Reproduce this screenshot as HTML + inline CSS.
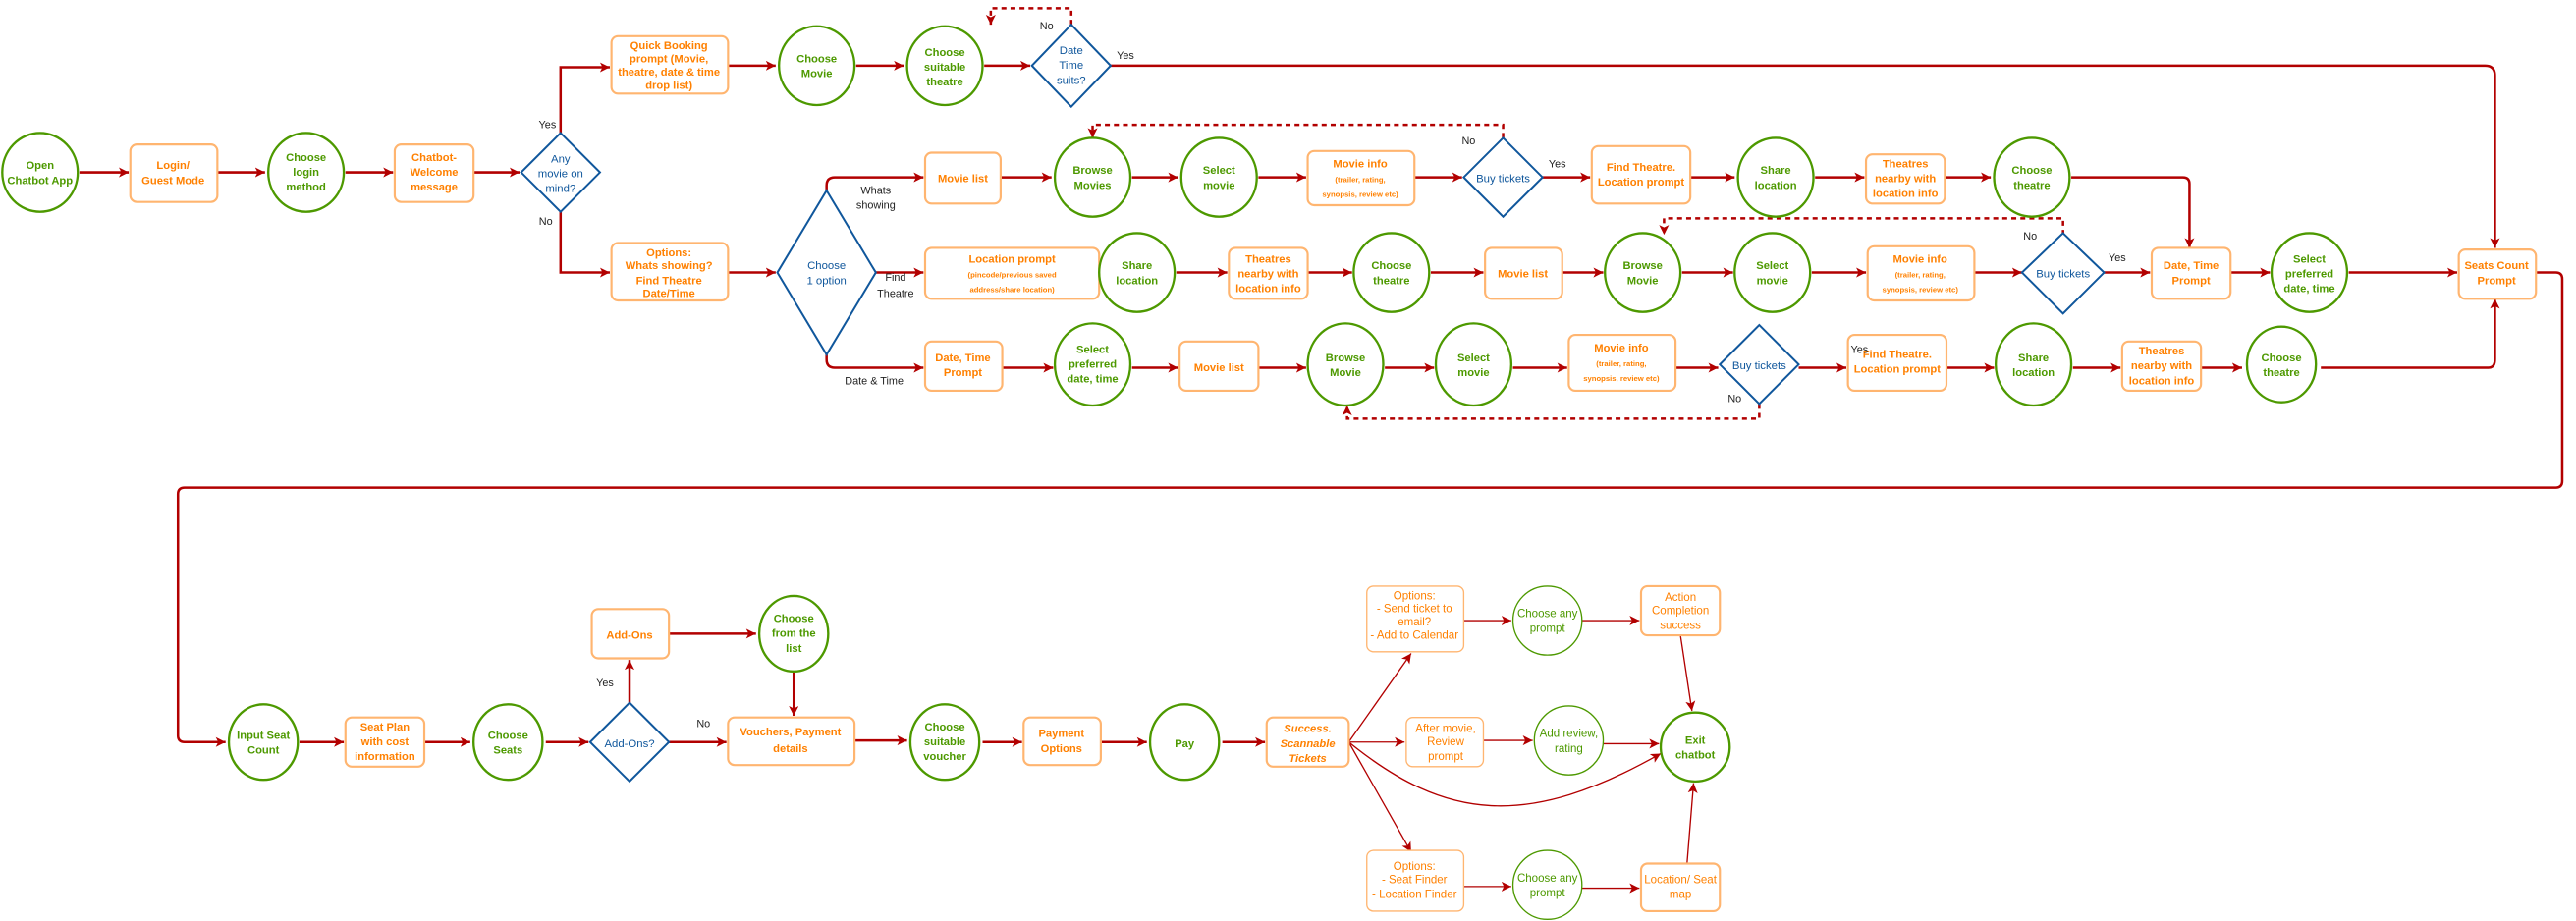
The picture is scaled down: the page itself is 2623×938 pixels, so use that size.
<!DOCTYPE html>
<html><head><meta charset="utf-8"><style>
html,body{margin:0;padding:0;background:#fff;}
svg{display:block;}
text{font-family:"Liberation Sans Narrow","Liberation Sans",sans-serif;text-anchor:middle;}
.g{fill:#4d9900;font-size:6.7px;font-weight:bold;}
.o{fill:#ff8000;font-size:6.7px;font-weight:bold;}
.os{fill:#ff8000;font-size:4.6px;font-weight:bold;}
.b{fill:#10579c;font-size:6.8px;}
.k{fill:#222;font-size:6.5px;}
.gn{fill:#4d9900;font-size:6.9px;}
.on{fill:#ff8000;font-size:6.9px;}
.cir{fill:#fff;stroke:#4d9900;stroke-width:1.4;}
.cir2{fill:#fff;stroke:#4d9900;stroke-width:0.8;}
.box{fill:#fff;stroke:#ffb570;stroke-width:1.3;}
.box2{fill:#fff;stroke:#ffb570;stroke-width:0.8;}
.dia{fill:#fff;stroke:#10579c;stroke-width:1.2;}
.a{fill:none;stroke:#b20000;stroke-width:1.5;marker-end:url(#ah);}
.a2{fill:none;stroke:#b20000;stroke-width:0.8;marker-end:url(#ah2);}
.d{fill:none;stroke:#b20000;stroke-width:1.5;stroke-dasharray:3,2.5;marker-end:url(#ah);}
</style></head><body>
<svg width="2623" height="938" viewBox="0 0 1568 561" xmlns="http://www.w3.org/2000/svg">
<defs>
<marker id="ah" markerWidth="8" markerHeight="8" refX="6" refY="3" orient="auto" markerUnits="userSpaceOnUse"><path d="M0,0 L6,3 L0,6 L1.5,3 z" fill="#b20000"/></marker>
<marker id="ah2" markerWidth="8" markerHeight="8" refX="6" refY="3" orient="auto" markerUnits="userSpaceOnUse"><path d="M0,0 L6,3 L0,6 L1.5,3 z" fill="#b20000"/></marker>
</defs>

<path class="a" d="M48,105 H78"/>
<path class="a" d="M132,105 H161"/>
<path class="a" d="M210,105 H239"/>
<path class="a" d="M288,105 H316"/>
<path class="a" d="M341,81 V41 H371"/>
<path class="a" d="M341,129 V166 H371"/>
<path class="a" d="M443,40 H472"/>
<path class="a" d="M521,40 H550"/>
<path class="a" d="M599,40 H627"/>
<path class="d" d="M652,15 V5 H603 V15"/>
<path class="a" d="M676,40 H1513 Q1519,40 1519,46 V151"/>
<path class="a" d="M443,166 H472"/>
<path class="a" d="M503,116 V113 Q503,108 508,108 H562"/>
<path class="a" d="M533,166 H562"/>
<path class="a" d="M503,216 V219 Q503,224 508,224 H562"/>

<path class="a" d="M609,108 H640"/>
<path class="a" d="M689,108 H717"/>
<path class="a" d="M766,108 H795"/>
<path class="a" d="M861,108 H890"/>
<path class="a" d="M939,108 H968"/>
<path class="a" d="M1029,108 H1056"/>
<path class="a" d="M1105,108 H1135"/>
<path class="a" d="M1184,108 H1212"/>
<path class="a" d="M1261,108 H1329 Q1333,108 1333,112 V151"/>
<path class="d" d="M915,84 V76 H665 V84"/>

<path class="a" d="M716,166 H747"/>
<path class="a" d="M796,166 H823"/>
<path class="a" d="M871,166 H903"/>
<path class="a" d="M951,166 H976"/>
<path class="a" d="M1024,166 H1055"/>
<path class="a" d="M1103,166 H1136"/>
<path class="a" d="M1202,166 H1231"/>
<path class="a" d="M1281,166 H1309"/>
<path class="a" d="M1358,166 H1382"/>
<path class="a" d="M1430,166 H1496"/>
<path class="d" d="M1256,143 V133 H1013 V143"/>

<path class="a" d="M610,224 H641"/>
<path class="a" d="M689,224 H717"/>
<path class="a" d="M766,224 H795"/>
<path class="a" d="M843,224 H873"/>
<path class="a" d="M921,224 H954"/>
<path class="a" d="M1020,224 H1046"/>
<path class="a" d="M1095,224 H1124"/>
<path class="a" d="M1185,224 H1214"/>
<path class="a" d="M1262,224 H1291"/>
<path class="a" d="M1340,224 H1365"/>
<path class="a" d="M1413,224 H1515 Q1519,224 1519,219 V182"/>
<path class="d" d="M1071,246 V255 H820 V247"/>

<path class="a" d="M1544,166 H1556 Q1560,166 1560,170 V293 Q1560,297 1556,297 H112 Q108,297 108,301 V448 Q108,452 112,452 H137"/>

<path class="a" d="M182,452 H209"/>
<path class="a" d="M258,452 H286"/>
<path class="a" d="M332,452 H358"/>
<path class="a" d="M383,428 V402"/>
<path class="a" d="M407,386 H460"/>
<path class="a" d="M483,408 V436"/>
<path class="a" d="M407,452 H442"/>
<path class="a" d="M520,451 H552"/>
<path class="a" d="M598,452 H622"/>
<path class="a" d="M670,452 H698"/>
<path class="a" d="M744,452 H770"/>
<path class="a2" d="M821,452 L859,398"/>
<path class="a2" d="M821,452 H855"/>
<path class="a2" d="M821,452 L859,519"/>
<path class="a2" d="M821,452 C880,500 930,505 1011,459"/>
<path class="a2" d="M891,378 H920"/>
<path class="a2" d="M963,378 H998"/>
<path class="a2" d="M1023,387 L1030,433"/>
<path class="a2" d="M903,451 H933"/>
<path class="a2" d="M976,453 H1010"/>
<path class="a2" d="M891,540 H920"/>
<path class="a2" d="M963,541 H998"/>
<path class="a2" d="M1027,526 L1031,477"/>

<ellipse class="cir" cx="24" cy="105" rx="23" ry="24"/>
<text class="g" x="24" y="103">Open</text><text class="g" x="24" y="112">Chatbot App</text>
<rect class="box" x="79" y="88" width="53" height="35" rx="4"/>
<text class="o" x="105" y="103">Login/</text><text class="o" x="105" y="112">Guest Mode</text>
<ellipse class="cir" cx="186" cy="105" rx="23" ry="24"/>
<text class="g" x="186" y="98">Choose</text><text class="g" x="186" y="107">login</text><text class="g" x="186" y="116">method</text>
<rect class="box" x="240" y="88" width="48" height="35" rx="4"/>
<text class="o" x="264" y="98">Chatbot-</text><text class="o" x="264" y="107">Welcome</text><text class="o" x="264" y="116">message</text>
<polygon class="dia" points="341,81 365,105 341,129 317,105"/>
<text class="b" x="341" y="99">Any</text><text class="b" x="341" y="108">movie on</text><text class="b" x="341" y="117">mind?</text>

<rect class="box" x="372" y="22" width="71" height="35" rx="4"/>
<text class="o" x="407" y="30">Quick Booking</text><text class="o" x="407" y="38">prompt (Movie,</text><text class="o" x="407" y="46">theatre, date &amp; time</text><text class="o" x="407" y="54">drop list)</text>
<ellipse class="cir" cx="497" cy="40" rx="23" ry="24"/>
<text class="g" x="497" y="38">Choose</text><text class="g" x="497" y="47">Movie</text>
<ellipse class="cir" cx="575" cy="40" rx="23" ry="24"/>
<text class="g" x="575" y="34">Choose</text><text class="g" x="575" y="43">suitable</text><text class="g" x="575" y="52">theatre</text>
<polygon class="dia" points="652,15 676,40 652,65 628,40"/>
<text class="b" x="652" y="33">Date</text><text class="b" x="652" y="42">Time</text><text class="b" x="652" y="51">suits?</text>

<rect class="box" x="372" y="148" width="71" height="35" rx="4"/>
<text class="o" x="407" y="156">Options:</text><text class="o" x="407" y="164">Whats showing?</text><text class="o" x="407" y="173">Find Theatre</text><text class="o" x="407" y="181">Date/Time</text>
<polygon class="dia" points="503,116 533,166 503,216 473,166"/>
<text class="b" x="503" y="164">Choose</text><text class="b" x="503" y="173">1 option</text>

<rect class="box" x="563" y="93" width="46" height="31" rx="4"/>
<text class="o" x="586" y="111">Movie list</text>
<ellipse class="cir" cx="665" cy="108" rx="23" ry="24"/>
<text class="g" x="665" y="106">Browse</text><text class="g" x="665" y="115">Movies</text>
<ellipse class="cir" cx="742" cy="108" rx="23" ry="24"/>
<text class="g" x="742" y="106">Select</text><text class="g" x="742" y="115">movie</text>
<rect class="box" x="796" y="92" width="65" height="33" rx="4"/>
<text class="o" x="828" y="102">Movie info</text><text class="os" x="828" y="111">(trailer, rating,</text><text class="os" x="828" y="120">synopsis, review etc)</text>
<polygon class="dia" points="915,84 939,108 915,132 891,108"/>
<text class="b" x="915" y="111">Buy tickets</text>
<rect class="box" x="969" y="89" width="60" height="35" rx="4"/>
<text class="o" x="999" y="104">Find Theatre.</text><text class="o" x="999" y="113">Location prompt</text>
<ellipse class="cir" cx="1081" cy="108" rx="23" ry="24"/>
<text class="g" x="1081" y="106">Share</text><text class="g" x="1081" y="115">location</text>
<rect class="box" x="1136" y="94" width="48" height="30" rx="4"/>
<text class="o" x="1160" y="102">Theatres</text><text class="o" x="1160" y="111">nearby with</text><text class="o" x="1160" y="120">location info</text>
<ellipse class="cir" cx="1237" cy="108" rx="23" ry="24"/>
<text class="g" x="1237" y="106">Choose</text><text class="g" x="1237" y="115">theatre</text>

<rect class="box" x="563" y="151" width="106" height="31" rx="4"/>
<text class="o" x="616" y="160">Location prompt</text><text class="os" x="616" y="169">(pincode/previous saved</text><text class="os" x="616" y="178">address/share location)</text>
<ellipse class="cir" cx="692" cy="166" rx="23" ry="24"/>
<text class="g" x="692" y="164">Share</text><text class="g" x="692" y="173">location</text>
<rect class="box" x="748" y="151" width="48" height="31" rx="4"/>
<text class="o" x="772" y="160">Theatres</text><text class="o" x="772" y="169">nearby with</text><text class="o" x="772" y="178">location info</text>
<ellipse class="cir" cx="847" cy="166" rx="23" ry="24"/>
<text class="g" x="847" y="164">Choose</text><text class="g" x="847" y="173">theatre</text>
<rect class="box" x="904" y="151" width="47" height="31" rx="4"/>
<text class="o" x="927" y="169">Movie list</text>
<ellipse class="cir" cx="1000" cy="166" rx="23" ry="24"/>
<text class="g" x="1000" y="164">Browse</text><text class="g" x="1000" y="173">Movie</text>
<ellipse class="cir" cx="1079" cy="166" rx="23" ry="24"/>
<text class="g" x="1079" y="164">Select</text><text class="g" x="1079" y="173">movie</text>
<rect class="box" x="1137" y="150" width="65" height="33" rx="4"/>
<text class="o" x="1169" y="160">Movie info</text><text class="os" x="1169" y="169">(trailer, rating,</text><text class="os" x="1169" y="178">synopsis, review etc)</text>
<polygon class="dia" points="1256,142 1281,166 1256,191 1231,166"/>
<text class="b" x="1256" y="169">Buy tickets</text>
<rect class="box" x="1310" y="151" width="48" height="31" rx="4"/>
<text class="o" x="1334" y="164">Date, Time</text><text class="o" x="1334" y="173">Prompt</text>
<ellipse class="cir" cx="1406" cy="166" rx="23" ry="24"/>
<text class="g" x="1406" y="160">Select</text><text class="g" x="1406" y="169">preferred</text><text class="g" x="1406" y="178">date, time</text>
<rect class="box" x="1497" y="152" width="47" height="30" rx="4"/>
<text class="o" x="1520" y="164">Seats Count</text><text class="o" x="1520" y="173">Prompt</text>

<rect class="box" x="563" y="208" width="47" height="30" rx="4"/>
<text class="o" x="586" y="220">Date, Time</text><text class="o" x="586" y="229">Prompt</text>
<ellipse class="cir" cx="665" cy="222" rx="23" ry="25"/>
<text class="g" x="665" y="215">Select</text><text class="g" x="665" y="224">preferred</text><text class="g" x="665" y="233">date, time</text>
<rect class="box" x="718" y="208" width="48" height="30" rx="4"/>
<text class="o" x="742" y="226">Movie list</text>
<ellipse class="cir" cx="819" cy="222" rx="23" ry="25"/>
<text class="g" x="819" y="220">Browse</text><text class="g" x="819" y="229">Movie</text>
<ellipse class="cir" cx="897" cy="222" rx="23" ry="25"/>
<text class="g" x="897" y="220">Select</text><text class="g" x="897" y="229">movie</text>
<rect class="box" x="955" y="204" width="65" height="34" rx="4"/>
<text class="o" x="987" y="214">Movie info</text><text class="os" x="987" y="223">(trailer, rating,</text><text class="os" x="987" y="232">synopsis, review etc)</text>
<polygon class="dia" points="1071,198 1095,222 1071,246 1047,222"/>
<text class="b" x="1071" y="225">Buy tickets</text>
<rect class="box" x="1125" y="204" width="60" height="34" rx="4"/>
<text class="o" x="1155" y="218">Find Theatre.</text><text class="o" x="1155" y="227">Location prompt</text>
<ellipse class="cir" cx="1238" cy="222" rx="23" ry="25"/>
<text class="g" x="1238" y="220">Share</text><text class="g" x="1238" y="229">location</text>
<rect class="box" x="1292" y="208" width="48" height="30" rx="4"/>
<text class="o" x="1316" y="216">Theatres</text><text class="o" x="1316" y="225">nearby with</text><text class="o" x="1316" y="234">location info</text>
<ellipse class="cir" cx="1389" cy="222" rx="21" ry="23"/>
<text class="g" x="1389" y="220">Choose</text><text class="g" x="1389" y="229">theatre</text>

<ellipse class="cir" cx="160" cy="452" rx="21" ry="23"/>
<text class="g" x="160" y="450">Input Seat</text><text class="g" x="160" y="459">Count</text>
<rect class="box" x="210" y="437" width="48" height="30" rx="4"/>
<text class="o" x="234" y="445">Seat Plan</text><text class="o" x="234" y="454">with cost</text><text class="o" x="234" y="463">information</text>
<ellipse class="cir" cx="309" cy="452" rx="21" ry="23"/>
<text class="g" x="309" y="450">Choose</text><text class="g" x="309" y="459">Seats</text>
<polygon class="dia" points="383,428 407,452 383,476 359,452"/>
<text class="b" x="383" y="455">Add-Ons?</text>
<rect class="box" x="360" y="371" width="47" height="30" rx="4"/>
<text class="o" x="383" y="389">Add-Ons</text>
<ellipse class="cir" cx="483" cy="386" rx="21" ry="23"/>
<text class="g" x="483" y="379">Choose</text><text class="g" x="483" y="388">from the</text><text class="g" x="483" y="397">list</text>
<rect class="box" x="443" y="437" width="77" height="29" rx="4"/>
<text class="o" x="481" y="448">Vouchers, Payment</text><text class="o" x="481" y="458">details</text>
<ellipse class="cir" cx="575" cy="452" rx="21" ry="23"/>
<text class="g" x="575" y="445">Choose</text><text class="g" x="575" y="454">suitable</text><text class="g" x="575" y="463">voucher</text>
<rect class="box" x="623" y="437" width="47" height="29" rx="4"/>
<text class="o" x="646" y="449">Payment</text><text class="o" x="646" y="458">Options</text>
<ellipse class="cir" cx="721" cy="452" rx="21" ry="23"/>
<text class="g" x="721" y="455">Pay</text>
<rect class="box" x="771" y="437" width="50" height="30" rx="4"/>
<text class="o" x="796" y="446" font-style="italic">Success.</text><text class="o" x="796" y="455" font-style="italic">Scannable</text><text class="o" x="796" y="464" font-style="italic">Tickets</text>

<rect class="box2" x="832" y="357" width="59" height="40" rx="4"/>
<text class="on" x="861" y="365">Options:</text><text class="on" x="861" y="373">- Send ticket to</text><text class="on" x="861" y="381">email?</text><text class="on" x="861" y="389">- Add to Calendar</text>
<ellipse class="cir2" cx="942" cy="378" rx="21" ry="21"/>
<text class="gn" x="942" y="376">Choose any</text><text class="gn" x="942" y="385">prompt</text>
<rect class="box" x="999" y="357" width="48" height="30" rx="4"/>
<text class="on" x="1023" y="366">Action</text><text class="on" x="1023" y="374">Completion</text><text class="on" x="1023" y="383">success</text>
<rect class="box2" x="856" y="437" width="47" height="30" rx="4"/>
<text class="on" x="880" y="446">After movie,</text><text class="on" x="880" y="454">Review</text><text class="on" x="880" y="463">prompt</text>
<ellipse class="cir2" cx="955" cy="451" rx="21" ry="21"/>
<text class="gn" x="955" y="449">Add review,</text><text class="gn" x="955" y="458">rating</text>
<ellipse class="cir" cx="1032" cy="455" rx="21" ry="21"/>
<text class="g" x="1032" y="453">Exit</text><text class="g" x="1032" y="462">chatbot</text>
<rect class="box2" x="832" y="518" width="59" height="37" rx="4"/>
<text class="on" x="861" y="530">Options:</text><text class="on" x="861" y="538">- Seat Finder</text><text class="on" x="861" y="547">- Location Finder</text>
<ellipse class="cir2" cx="942" cy="539" rx="21" ry="21"/>
<text class="gn" x="942" y="537">Choose any</text><text class="gn" x="942" y="546">prompt</text>
<rect class="box" x="999" y="526" width="48" height="29" rx="4"/>
<text class="on" x="1023" y="538">Location/ Seat</text><text class="on" x="1023" y="547">map</text>

<text class="k" x="333" y="78">Yes</text>
<text class="k" x="332" y="137">No</text>
<text class="k" x="533" y="118">Whats</text><text class="k" x="533" y="127">showing</text>
<text class="k" x="545" y="171">Find</text><text class="k" x="545" y="181">Theatre</text>
<text class="k" x="532" y="234">Date &amp; Time</text>
<text class="k" x="637" y="18">No</text>
<text class="k" x="685" y="36">Yes</text>
<text class="k" x="894" y="88">No</text>
<text class="k" x="948" y="102">Yes</text>
<text class="k" x="1236" y="146">No</text>
<text class="k" x="1289" y="159">Yes</text>
<text class="k" x="1132" y="215">Yes</text>
<text class="k" x="1056" y="245">No</text>
<text class="k" x="368" y="418">Yes</text>
<text class="k" x="428" y="443">No</text>
</svg>
</body></html>
